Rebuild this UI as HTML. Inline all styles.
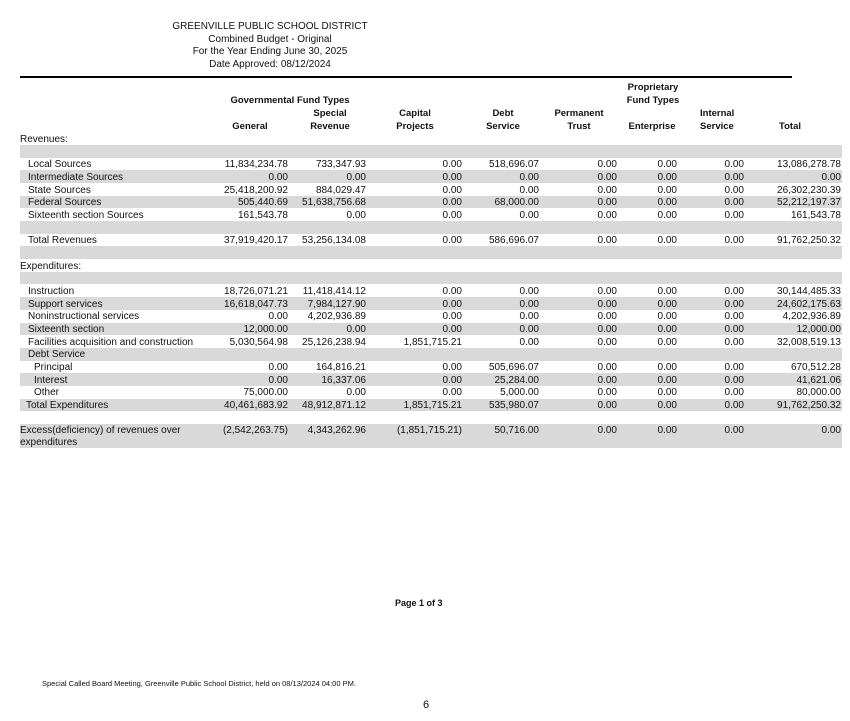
<!DOCTYPE html>
<html><head><meta charset="utf-8">
<style>
body{margin:0;width:850px;height:721px;background:#fff;position:relative;overflow:hidden;font-family:"Liberation Sans",Arial,sans-serif;color:#111}
.a{position:absolute;white-space:nowrap}
.t{font-size:10px;line-height:12.7px}
.c{text-align:center}
.b{font-weight:bold;font-size:9.5px;line-height:13px}
.band{position:absolute;left:20px;width:822px;background:#d9d9d9}
.n{position:absolute;font-size:10px;line-height:12.7px;text-align:right;white-space:nowrap}
</style></head>
<body>
<div class="a t c" style="left:120px;width:300px;top:21px">GREENVILLE PUBLIC SCHOOL DISTRICT</div>
<div class="a t c" style="left:120px;width:300px;top:34px">Combined Budget - Original</div>
<div class="a t c" style="left:120px;width:300px;top:46px">For the Year Ending June 30, 2025</div>
<div class="a t c" style="left:120px;width:300px;top:59px">Date Approved: 08/12/2024</div>
<div class="a" style="left:20px;top:76px;width:772px;height:2px;background:#000"></div>

<div class="a b c" style="left:210px;width:160px;top:94px">Governmental Fund Types</div>
<div class="a b c" style="left:300px;width:60px;top:107px">Special</div>
<div class="a b c" style="left:220px;width:60px;top:120px">General</div>
<div class="a b c" style="left:300px;width:60px;top:120px">Revenue</div>
<div class="a b c" style="left:385px;width:60px;top:107px">Capital<br>Projects</div>
<div class="a b c" style="left:473px;width:60px;top:107px">Debt<br>Service</div>
<div class="a b c" style="left:549px;width:60px;top:107px">Permanent<br>Trust</div>
<div class="a b c" style="left:613px;width:80px;top:81px">Proprietary<br>Fund Types</div>
<div class="a b c" style="left:622px;width:60px;top:120px">Enterprise</div>
<div class="a b" style="left:700px;top:107px">Internal<br>Service</div>
<div class="a b c" style="left:765px;width:50px;top:120px">Total</div>

<div class="a t" style="left:20px;top:134px">Revenues:</div>

<div id="tbl"></div>

<div class="a" style="left:395px;top:598px;font-size:9px;font-weight:bold">Page 1 of 3</div>
<div class="a" style="left:42px;top:679px;font-size:7.5px">Special Called Board Meeting, Greenville Public School District, held on 08/13/2024 04:00 PM.</div>
<div class="a" style="left:423px;top:699px;font-size:11px">6</div>

<script>
const rowLabels=["","Local Sources","Intermediate Sources","State Sources","Federal Sources","Sixteenth section Sources","","Total Revenues","","Expenditures:","","Instruction","Support services","Noninstructional services","Sixteenth section","Facilities acquisition and construction","Debt Service","Principal","Interest","Other","Total Expenditures","","Excess(deficiency) of revenues over"];
const rowIndent=[0,28,28,28,28,28,0,28,0,20,0,28,28,28,28,28,28,34,34,34,26,0,20];
const rowGray=[1,0,1,0,1,0,1,0,1,0,1,0,1,0,1,0,1,0,1,0,1,0,1];
const rowValues=[null,
["11,834,234.78","733,347.93","0.00","518,696.07","0.00","0.00","0.00","13,086,278.78"],
["0.00","0.00","0.00","0.00","0.00","0.00","0.00","0.00"],
["25,418,200.92","884,029.47","0.00","0.00","0.00","0.00","0.00","26,302,230.39"],
["505,440.69","51,638,756.68","0.00","68,000.00","0.00","0.00","0.00","52,212,197.37"],
["161,543.78","0.00","0.00","0.00","0.00","0.00","0.00","161,543.78"],
null,
["37,919,420.17","53,256,134.08","0.00","586,696.07","0.00","0.00","0.00","91,762,250.32"],
null,null,null,
["18,726,071.21","11,418,414.12","0.00","0.00","0.00","0.00","0.00","30,144,485.33"],
["16,618,047.73","7,984,127.90","0.00","0.00","0.00","0.00","0.00","24,602,175.63"],
["0.00","4,202,936.89","0.00","0.00","0.00","0.00","0.00","4,202,936.89"],
["12,000.00","0.00","0.00","0.00","0.00","0.00","0.00","12,000.00"],
["5,030,564.98","25,126,238.94","1,851,715.21","0.00","0.00","0.00","0.00","32,008,519.13"],
null,
["0.00","164,816.21","0.00","505,696.07","0.00","0.00","0.00","670,512.28"],
["0.00","16,337.06","0.00","25,284.00","0.00","0.00","0.00","41,621.06"],
["75,000.00","0.00","0.00","5,000.00","0.00","0.00","0.00","80,000.00"],
["40,461,683.92","48,912,871.12","1,851,715.21","535,980.07","0.00","0.00","0.00","91,762,250.32"],
null,
["(2,542,263.75)","4,343,262.96","(1,851,715.21)","50,716.00","0.00","0.00","0.00","0.00"]];
const colRight=[288,366,462,539,617,677,744,841];
const tbl=document.getElementById('tbl');
const top0=145, rh=12.68;
for(let i=0;i<rowLabels.length;i++){
  const y=top0+i*rh;
  const last=i===rowLabels.length-1;
  if(rowGray[i]){
    const band=document.createElement('div');
    band.className='band';
    
    
    band.style.top=y+'px';band.style.height=(last?24:rh)+'px';
    tbl.appendChild(band);
  }
  if(rowLabels[i]){
    const l=document.createElement('div');
    l.className='a t';
    
    
    l.style.left=rowIndent[i]+'px';l.style.top=(y+1.5)+'px';
    l.innerHTML=last?rowLabels[i]+'<br>expenditures':rowLabels[i];
    if(last)l.style.lineHeight='11.5px';
    tbl.appendChild(l);
  }
  if(rowValues[i]){
    rowValues[i].forEach((v,j)=>{
      const c=document.createElement('div');
      c.className='n';
      
      
      const r=colRight[j];
      c.style.right=(850-r)+'px';c.style.top=(y+1.5)+'px';
      c.textContent=v;
      tbl.appendChild(c);
    });
  }
}
</script>
</body></html>
